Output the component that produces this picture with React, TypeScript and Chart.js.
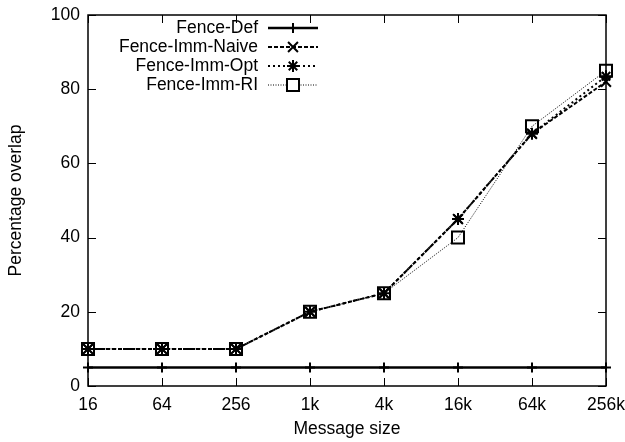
import React, { useEffect, useRef } from "react";
import { Chart, registerables } from "chart.js";

Chart.register(...registerables);

const categories = ["16", "64", "256", "1k", "4k", "16k", "64k", "256k"];
const fenceDef = [5, 5, 5, 5, 5, 5, 5, 5];
const fenceImmNaive = [10, 10, 10, 20, 25, 45, 68, 82];
const fenceImmOpt = [10, 10, 10, 20, 25, 45, 68, 83.5];
const fenceImmRI = [10, 10, 10, 20, 25, 40, 70, 85];
const yTicks = [0, 20, 40, 60, 80, 100];

const FONT = "'Liberation Sans', Arial, sans-serif";
const FS = 17.5;

type LegendItem = { label: string; dash: number[]; width: number; style: string; radius: number };

const legendItems: LegendItem[] = [
  { label: "Fence-Def", dash: [], width: 2.5, style: "cross", radius: 5 },
  { label: "Fence-Imm-Naive", dash: [4, 2], width: 2, style: "crossRot", radius: 7 },
  { label: "Fence-Imm-Opt", dash: [2, 3], width: 2, style: "star", radius: 6 },
  { label: "Fence-Imm-RI", dash: [1, 1.5], width: 1, style: "rect", radius: 8.5 },
];

function drawMarker(ctx: CanvasRenderingContext2D, style: string, r: number, x: number, y: number) {
  ctx.beginPath();
  ctx.lineWidth = 2;
  ctx.strokeStyle = "#000";
  if (style === "cross" || style === "star") {
    ctx.moveTo(x - r, y);
    ctx.lineTo(x + r, y);
    ctx.moveTo(x, y - r);
    ctx.lineTo(x, y + r);
  }
  if (style === "crossRot" || style === "star") {
    const o = r * Math.SQRT1_2;
    ctx.moveTo(x - o, y - o);
    ctx.lineTo(x + o, y + o);
    ctx.moveTo(x - o, y + o);
    ctx.lineTo(x + o, y - o);
  }
  if (style === "rect") {
    const s = r * Math.SQRT1_2;
    ctx.fillStyle = "#fff";
    ctx.fillRect(x - s, y - s, 2 * s, 2 * s);
    ctx.rect(x - s, y - s, 2 * s, 2 * s);
  }
  ctx.stroke();
}

const framePlugin = {
  id: "framePlugin",
  afterDatasetsDraw(chart: any) {
    const ctx = chart.ctx;
    const { left, right, top, bottom } = chart.chartArea;
    const xs = chart.scales.x;
    const ys = chart.scales.y;
    ctx.save();
    ctx.strokeStyle = "#000";
    ctx.lineWidth = 1.5;
    ctx.setLineDash([]);
    ctx.strokeRect(left, top, right - left, bottom - top);
    ctx.lineWidth = 1;
    const tl = 8;
    ctx.beginPath();
    for (let i = 0; i < categories.length; i++) {
      const x = Math.round(xs.getPixelForValue(i)) + 0.5;
      ctx.moveTo(x, bottom);
      ctx.lineTo(x, bottom - tl);
      ctx.moveTo(x, top);
      ctx.lineTo(x, top + tl);
    }
    for (const v of yTicks) {
      const y = Math.round(ys.getPixelForValue(v)) + 0.5;
      ctx.moveTo(left, y);
      ctx.lineTo(left + tl, y);
      ctx.moveTo(right, y);
      ctx.lineTo(right - tl, y);
    }
    ctx.stroke();
    ctx.restore();
  },
  afterDraw(chart: any) {
    const ctx = chart.ctx;
    ctx.save();
    ctx.font = `${FS}px ${FONT}`;
    ctx.fillStyle = "#000";
    ctx.textAlign = "right";
    ctx.textBaseline = "middle";
    const textRight = 258;
    const x0 = 268;
    const x1 = 318;
    legendItems.forEach((it, i) => {
      const y = 28 + i * 19;
      ctx.fillStyle = "#000";
      ctx.fillText(it.label, textRight, y);
      ctx.strokeStyle = "#000";
      ctx.lineWidth = it.width;
      ctx.setLineDash(it.dash);
      ctx.beginPath();
      ctx.moveTo(x0, y);
      ctx.lineTo(x1, y);
      ctx.stroke();
      ctx.setLineDash([]);
      drawMarker(ctx, it.style, it.radius, (x0 + x1) / 2, y);
    });
    ctx.restore();
  },
};

export default function App() {
  const ref = useRef<HTMLCanvasElement>(null);
  useEffect(() => {
    document.body.style.margin = "0";
    const mk = (data: number[], it: LegendItem) => ({
      label: it.label,
      data,
      borderColor: "#000",
      backgroundColor: "rgba(0,0,0,0)",
      borderWidth: it.width,
      borderDash: it.dash,
      pointStyle: it.style,
      pointRadius: it.radius,
      pointBorderWidth: 2,
      pointBorderColor: "#000",
      pointBackgroundColor: "rgba(0,0,0,0)",
      tension: 0,
      clip: false as any,
      fill: false,
    });
    const chart = new Chart(ref.current!, {
      type: "line",
      data: {
        labels: categories,
        datasets: [
          mk(fenceDef, legendItems[0]),
          mk(fenceImmNaive, legendItems[1]),
          mk(fenceImmOpt, legendItems[2]),
          mk(fenceImmRI, legendItems[3]),
        ],
      },
      options: {
        animation: false,
        responsive: false,
        layout: { padding: { left: 0, right: 19, top: 15, bottom: 0 } },
        plugins: { legend: { display: false }, tooltip: { enabled: false } },
        scales: {
          x: {
            type: "category",
            offset: false,
            grid: { display: false, drawTicks: false },
            border: { display: false },
            ticks: { color: "#000", font: { family: FONT, size: FS }, padding: 9, maxRotation: 0, autoSkip: false },
            title: { display: true, text: "Message size", color: "#000", font: { family: FONT, size: FS }, padding: { top: 0, bottom: 2 } },
            afterFit: (s: any) => { s.height = 56; s.paddingLeft = 0; s.paddingRight = 0; },
          },
          y: {
            type: "linear",
            min: 0,
            max: 100,
            grid: { display: false, drawTicks: false },
            border: { display: false },
            ticks: { color: "#000", font: { family: FONT, size: FS }, padding: 8, stepSize: 20 },
            title: { display: true, text: "Percentage overlap", color: "#000", font: { family: FONT, size: FS }, padding: { top: 6, bottom: 0 } },
            afterFit: (s: any) => { s.width = 88; s.paddingTop = 0; s.paddingBottom = 0; },
          },
        },
      },
      plugins: [framePlugin],
    });
    return () => chart.destroy();
  }, []);
  return (
    <div style={{ position: "fixed", left: 0, top: 0, width: 625, height: 442, background: "#fff" }}>
      <canvas ref={ref} width={625} height={442} style={{ width: 625, height: 442 }} />
    </div>
  );
}
